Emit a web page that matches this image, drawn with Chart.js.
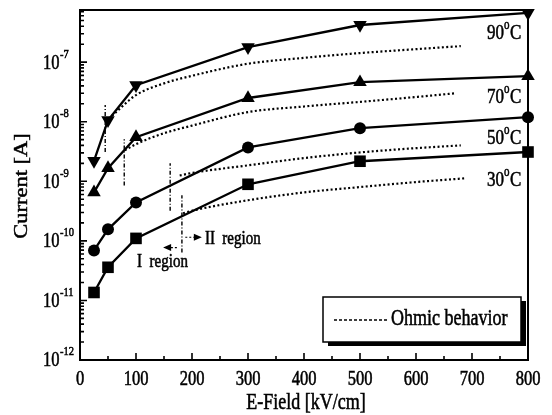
<!DOCTYPE html>
<html>
<head>
<meta charset="utf-8">
<script src="https://cdn.jsdelivr.net/npm/chart.js@4.4.1/dist/chart.umd.min.js"></script>
<style>
  html, body { margin: 0; padding: 0; background: #fff; }
  #wrap { width: 552px; height: 415px; }
</style>
</head>
<body>
<div id="wrap"><canvas id="iv-chart" width="552" height="415"></canvas></div>
<script>
// measured points (E-field in kV/cm, current in A)
const fieldKV = [25, 50, 100, 300, 500, 800];
const current30 = [1.36e-11, 3.6e-11, 1.1e-10, 8.9e-10, 2.17e-9, 3.1e-9];
const current50 = [6.9e-11, 1.56e-10, 4.4e-10, 3.7e-9, 7.8e-9, 1.19e-8];
const current70 = [6.5e-10, 1.66e-9, 5.5e-9, 2.5e-8, 4.6e-8, 5.8e-8];
const current90 = [2.2e-9, 1.06e-8, 4.1e-8, 1.78e-7, 4.2e-7, 6.7e-7];

// ohmic reference curves
const ohmicField30 = [184, 200, 300, 400, 500, 600, 686];
const ohmic30 = [2.9e-10, 3.2e-10, 4.8e-10, 6.5e-10, 8.0e-10, 9.7e-10, 1.12e-9];
const ohmicField50 = [178, 200, 300, 400, 500, 600, 680];
const ohmic50 = [1.25e-9, 1.38e-9, 1.85e-9, 2.45e-9, 3.05e-9, 3.6e-9, 4.0e-9];
const ohmicField70 = [80, 100, 150, 200, 300, 400, 500, 600, 670];
const ohmic70 = [3.3e-9, 4.2e-9, 6.4e-9, 8.6e-9, 1.45e-8, 1.8e-8, 2.15e-8, 2.6e-8, 3.0e-8];
const ohmicField90 = [57, 100, 150, 200, 300, 400, 500, 600, 680];
const ohmic90 = [1.25e-8, 2.8e-8, 4.4e-8, 5.9e-8, 9.4e-8, 1.18e-7, 1.42e-7, 1.65e-7, 1.86e-7];

// region I / II boundaries (vertical dash-dot marks)
const boundaryField = [45, 79, 161, 182];
const boundaryLow = [3.1e-9, 8.5e-10, 3.2e-10, 6.4e-11];
const boundaryHigh = [1.9e-8, 5.1e-9, 2.0e-9, 5.8e-10];

const tempLabels = ["90", "70", "50", "30"];
const tempLabelY = [33, 97, 138, 180];
const xTickValues = [0, 100, 200, 300, 400, 500, 600, 700, 800];
const yTickExponents = [-12, -11, -10, -9, -8, -7];

const SERIF = '"Liberation Serif", "DejaVu Serif", serif';
const STRETCH = 1.25; // glyphs are taller than wide in this figure

function toPoints(xs, ys) {
  return xs.map((x, i) => ({ x: x, y: ys[i] }));
}

function measured(label, ys, style, radius, rotation) {
  return {
    label: label,
    data: toPoints(fieldKV, ys),
    borderColor: "#000",
    backgroundColor: "#000",
    borderWidth: 2.3,
    pointStyle: style,
    pointRadius: radius,
    pointRotation: rotation || 0,
    pointBorderWidth: 0,
    tension: 0,
    clip: false
  };
}

function ohmic(xs, ys) {
  return {
    data: toPoints(xs, ys),
    borderColor: "#000",
    borderWidth: 2.2,
    borderDash: [2, 2.4],
    pointRadius: 0,
    cubicInterpolationMode: "monotone",
    clip: false
  };
}

const datasets = [
  ohmic(ohmicField30, ohmic30),
  ohmic(ohmicField50, ohmic50),
  ohmic(ohmicField70, ohmic70),
  ohmic(ohmicField90, ohmic90)
];
boundaryField.forEach((x, i) => {
  datasets.push({
    data: [{ x: x, y: boundaryLow[i] }, { x: x, y: boundaryHigh[i] }],
    borderColor: "#000",
    borderWidth: 1.4,
    borderDash: [4, 2, 1, 2],
    pointRadius: 0
  });
});
datasets.push(
  measured("30", current30, "rect", 8.2),
  measured("50", current50, "circle", 6),
  measured("70", current70, "triangle", 7.8),
  measured("90", current90, "triangle", 7.8, 180)
);

function text(ctx, str, x, y, size, align) {
  ctx.save();
  ctx.translate(x, y);
  ctx.scale(1, STRETCH);
  ctx.font = size + "px " + SERIF;
  ctx.textAlign = align || "left";
  ctx.textBaseline = "middle";
  ctx.fillStyle = "#000";
  ctx.strokeStyle = "#000";
  ctx.lineWidth = 0.45;
  ctx.fillText(str, 0, 0);
  ctx.strokeText(str, 0, 0);
  ctx.restore();
}

// frame, inward ticks, labels, annotations, legend box
const decorPlugin = {
  id: "decor",
  afterDraw(chart) {
    const ctx = chart.ctx;
    const a = chart.chartArea;
    const xs = chart.scales.x;
    const ys = chart.scales.y;

    ctx.save();
    ctx.strokeStyle = "#000";
    ctx.lineWidth = 2;
    ctx.strokeRect(a.left, a.top, a.right - a.left, a.bottom - a.top);

    // x ticks every 50
    ctx.lineWidth = 1.6;
    ctx.beginPath();
    for (let v = 0; v <= 800; v += 50) {
      const px = xs.getPixelForValue(v);
      const len = v % 100 === 0 ? 7 : 4;
      ctx.moveTo(px, a.bottom);
      ctx.lineTo(px, a.bottom - len);
    }
    // y ticks: decades and 2..9 minors
    for (let e = -12; e <= -7; e++) {
      for (let m = 1; m <= 9; m++) {
        const v = m * Math.pow(10, e);
        if (v > ys.max) break;
        const py = ys.getPixelForValue(v);
        const len = m === 1 ? 7 : 4;
        ctx.moveTo(a.left, py);
        ctx.lineTo(a.left + len, py);
      }
    }
    ctx.stroke();

    // tick labels
    xTickValues.forEach(v => {
      text(ctx, String(v), xs.getPixelForValue(v), 380, 16.5, "center");
    });
    yTickExponents.forEach(e => {
      const py = ys.getPixelForValue(Math.pow(10, e));
      text(ctx, "10", 43, py + 1, 16.5, "left");
      text(ctx, "-" + Math.abs(e), 60, py - 8, 10.5, "left");
    });

    // axis titles
    text(ctx, "E-Field [kV/cm]", 306, 403, 18, "center");
    ctx.save();
    ctx.translate(22, 186);
    ctx.scale(1, STRETCH);
    ctx.rotate(-Math.PI / 2);
    ctx.font = "18px " + SERIF;
    ctx.textAlign = "center";
    ctx.textBaseline = "middle";
    ctx.fillStyle = "#000";
    ctx.strokeStyle = "#000";
    ctx.lineWidth = 0.45;
    ctx.fillText("Current [A]", 0, 0);
    ctx.strokeText("Current [A]", 0, 0);
    ctx.restore();

    // temperature labels
    tempLabels.forEach((t, i) => {
      const lx = a.right - 41;
      const ly = tempLabelY[i];
      text(ctx, t, lx, ly, 17, "left");
      text(ctx, "o", lx + 17, ly - 8, 11, "left");
      text(ctx, "C", lx + 23, ly, 17, "left");
    });

    // region arrows
    const yl = ys.getPixelForValue(7.7e-11);
    const yr = ys.getPixelForValue(1.15e-10);
    const xl0 = xs.getPixelForValue(173), xl1 = xs.getPixelForValue(152);
    const xr0 = xs.getPixelForValue(188), xr1 = xs.getPixelForValue(214);
    ctx.lineWidth = 1.2;
    ctx.setLineDash([2, 2]);
    ctx.beginPath();
    ctx.moveTo(xl0, yl); ctx.lineTo(xl1 + 4, yl);
    ctx.moveTo(xr0, yr); ctx.lineTo(xr1 - 4, yr);
    ctx.stroke();
    ctx.setLineDash([]);
    ctx.fillStyle = "#000";
    ctx.beginPath();
    ctx.moveTo(xl1 - 2, yl); ctx.lineTo(xl1 + 6, yl - 3.5); ctx.lineTo(xl1 + 6, yl + 3.5);
    ctx.closePath();
    ctx.moveTo(xr1 + 2, yr); ctx.lineTo(xr1 - 6, yr - 3.5); ctx.lineTo(xr1 - 6, yr + 3.5);
    ctx.closePath();
    ctx.fill();
    text(ctx, "II  region", xs.getPixelForValue(223), ys.getPixelForValue(1.06e-10), 15, "left");
    text(ctx, "I  region", xs.getPixelForValue(102), ys.getPixelForValue(4.4e-11), 15, "left");

    // legend box with drop shadow
    const bx = 323, by = 297, bw = 198, bh = 45;
    ctx.fillStyle = "#000";
    ctx.fillRect(bx + 5, by + 4, bw, bh);
    ctx.fillStyle = "#fff";
    ctx.fillRect(bx, by, bw, bh);
    ctx.lineWidth = 1.5;
    ctx.strokeRect(bx, by, bw, bh);
    ctx.setLineDash([3, 2]);
    ctx.beginPath();
    ctx.moveTo(334, 320); ctx.lineTo(388, 320);
    ctx.stroke();
    ctx.setLineDash([]);
    text(ctx, "Ohmic behavior", 391, 319, 18, "left");
    ctx.restore();
  }
};

new Chart(document.getElementById("iv-chart"), {
  type: "line",
  data: { datasets: datasets },
  options: {
    responsive: false,
    animation: false,
    events: [],
    layout: { padding: { left: 0, right: 24, top: 10, bottom: 0 } },
    plugins: { legend: { display: false }, tooltip: { enabled: false } },
    scales: {
      x: {
        type: "linear",
        min: 0,
        max: 800,
        grid: { display: false },
        border: { display: false },
        ticks: { display: false },
        afterFit(scale) { scale.height = 55; }
      },
      y: {
        type: "logarithmic",
        min: 1e-12,
        max: 7.5e-7,
        grid: { display: false },
        border: { display: false },
        ticks: { display: false },
        afterFit(scale) { scale.width = 80; }
      }
    }
  },
  plugins: [decorPlugin]
});
</script>
</body>
</html>
